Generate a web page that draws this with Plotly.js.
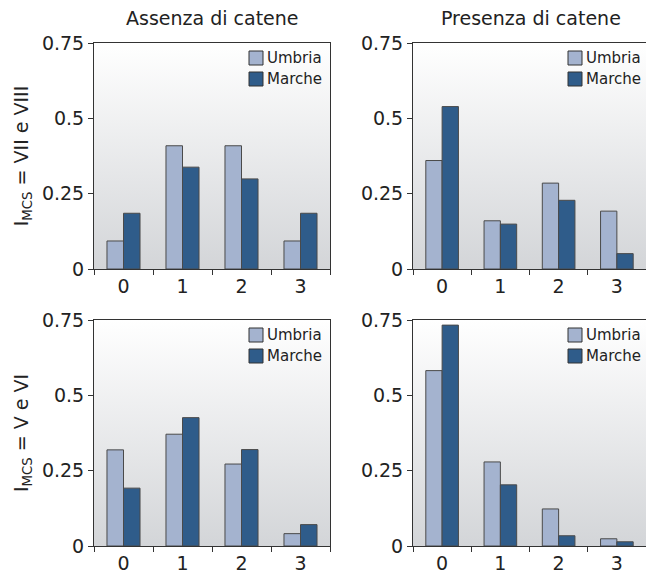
<!DOCTYPE html>
<html>
<head>
<meta charset="utf-8">
<script src="https://cdn.plot.ly/plotly-3.0.1.min.js"></script>
<style>html,body{margin:0;padding:0;background:#fff;}#chart{width:646px;height:572px;}</style>
</head>
<body>
<div id="chart"></div>
<script>
const categories = ['0', '1', '2', '3'];
const seriesNames = ['Umbria', 'Marche'];
const columnTitles = ['Assenza di catene', 'Presenza di catene'];
const rowTitles = ['I<sub>MCS</sub> = VII e VIII', 'I<sub>MCS</sub> = V e VI'];
const yTickVals = [0, 0.25, 0.5, 0.75];
const yTickText = ['0', '0.25', '0.5', '0.75'];

// top-left: VII e VIII, assenza
const umbriaTL = [0.093, 0.409, 0.409, 0.093];
const marcheTL = [0.185, 0.338, 0.299, 0.185];
// top-right: VII e VIII, presenza
const umbriaTR = [0.360, 0.160, 0.285, 0.192];
const marcheTR = [0.539, 0.149, 0.228, 0.051];
// bottom-left: V e VI, assenza
const umbriaBL = [0.319, 0.371, 0.272, 0.041];
const marcheBL = [0.192, 0.426, 0.320, 0.071];
// bottom-right: V e VI, presenza
const umbriaBR = [0.582, 0.279, 0.123, 0.024];
const marcheBR = [0.733, 0.203, 0.034, 0.014];

const FONT = '"DejaVu Sans", sans-serif';
const colUmbria = '#a4b3cf';
const colMarche = '#2f5c8a';
const seriesColors = [colUmbria, colMarche];
const outline = '#4a4a4a';

const W = 646, H = 572;
const LEFTS = [94, 413];           // panel left edges (px)
const TOPS = [43, 320];            // panel top edges (px)
const xDomL = [94 / W, 330 / W];
const xDomR = [413 / W, 1.0];
const yDomT = [1 - 269 / H, 1 - 43 / H];
const yDomB = [1 - 546 / H, 1 - 320 / H];

const panels = [
  {u: umbriaTL, m: marcheTL, xa: 'x', ya: 'y', col: 0, row: 0},
  {u: umbriaTR, m: marcheTR, xa: 'x2', ya: 'y2', col: 1, row: 0},
  {u: umbriaBL, m: marcheBL, xa: 'x3', ya: 'y3', col: 0, row: 1},
  {u: umbriaBR, m: marcheBR, xa: 'x4', ya: 'y4', col: 1, row: 1}
];

const data = [];
panels.forEach(p => {
  data.push({type: 'bar', x: categories, y: p.u, name: seriesNames[0], xaxis: p.xa, yaxis: p.ya,
    marker: {color: colUmbria, line: {color: outline, width: 1}}, hoverinfo: 'y', showlegend: false});
  data.push({type: 'bar', x: categories, y: p.m, name: seriesNames[1], xaxis: p.xa, yaxis: p.ya,
    marker: {color: colMarche, line: {color: outline, width: 1}}, hoverinfo: 'y', showlegend: false});
});

function xaxis(dom, anchor) {
  return {domain: dom, anchor: anchor, type: 'category', range: [-0.5, 3.5],
    tickson: 'boundaries', ticks: 'outside', ticklen: 5, tickcolor: '#333', tickwidth: 1,
    showline: true, linecolor: '#333', linewidth: 1, mirror: true, showgrid: false, zeroline: false,
    tickfont: {family: FONT, size: 19, color: '#222'}, fixedrange: true};
}
function yaxis(dom, anchor, title) {
  const a = {domain: dom, anchor: anchor, range: [0, 0.75], tickvals: yTickVals, ticktext: yTickText,
    ticks: 'outside', ticklen: 5, tickcolor: '#333', tickwidth: 1,
    showline: true, linecolor: '#333', linewidth: 1, mirror: true, showgrid: false, zeroline: false,
    tickfont: {family: FONT, size: 19, color: '#222'}, fixedrange: true};
  if (title) a.title = {text: title, font: {family: FONT, size: 19, color: '#222'}, standoff: 8};
  return a;
}

const grad = 'data:image/svg+xml;utf8,' + encodeURIComponent(
  '<svg xmlns="http://www.w3.org/2000/svg" width="100" height="100" preserveAspectRatio="none">' +
  '<defs><linearGradient id="g" x1="0" y1="0" x2="0" y2="1">' +
  '<stop offset="0" stop-color="#ffffff"/><stop offset="1" stop-color="#d3d5d8"/></linearGradient></defs>' +
  '<rect width="100" height="100" fill="url(#g)"/></svg>');

function bgImage(xr, yr) {
  return {source: grad, xref: xr + ' domain', yref: yr + ' domain', x: 0, y: 1, sizex: 1, sizey: 1,
    xanchor: 'left', yanchor: 'top', sizing: 'stretch', layer: 'below'};
}

// custom legends (swatch + label) inside each panel, top-right
const shapes = [];
const annotations = [
  {text: columnTitles[0], xref: 'paper', yref: 'paper', x: (xDomL[0] + xDomL[1]) / 2, y: 1 - 18 / H,
    xanchor: 'center', yanchor: 'middle', showarrow: false, font: {family: FONT, size: 19, color: '#222'}},
  {text: columnTitles[1], xref: 'paper', yref: 'paper', x: (413 + 649) / 2 / W, y: 1 - 18 / H,
    xanchor: 'center', yanchor: 'middle', showarrow: false, font: {family: FONT, size: 19, color: '#222'}}
];
panels.forEach(p => {
  const left = LEFTS[p.col], top = TOPS[p.row];
  seriesNames.forEach((nm, i) => {
    const sx0 = left + 155, sy0 = top + 8 + i * 21;
    shapes.push({type: 'rect', xref: 'paper', yref: 'paper',
      x0: sx0 / W, x1: (sx0 + 14) / W, y0: 1 - sy0 / H, y1: 1 - (sy0 + 14) / H,
      fillcolor: seriesColors[i], line: {color: '#333', width: 1}});
    annotations.push({text: nm, xref: 'paper', yref: 'paper', x: (sx0 + 16) / W, y: 1 - (sy0 + 7) / H,
      xanchor: 'left', yanchor: 'middle', showarrow: false,
      font: {family: FONT, size: 15, color: '#222'}});
  });
});

const layout = {
  width: W, height: H,
  margin: {l: 0, r: 0, t: 0, b: 0},
  paper_bgcolor: '#ffffff', plot_bgcolor: 'rgba(0,0,0,0)',
  barmode: 'group', bargap: 0.44, bargroupgap: 0,
  font: {family: FONT, color: '#222'},
  showlegend: false,
  xaxis: xaxis(xDomL, 'y'), yaxis: yaxis(yDomT, 'x', rowTitles[0]),
  xaxis2: xaxis(xDomR, 'y2'), yaxis2: yaxis(yDomT, 'x2', null),
  xaxis3: xaxis(xDomL, 'y3'), yaxis3: yaxis(yDomB, 'x3', rowTitles[1]),
  xaxis4: xaxis(xDomR, 'y4'), yaxis4: yaxis(yDomB, 'x4', null),
  images: [bgImage('x', 'y'), bgImage('x2', 'y2'), bgImage('x3', 'y3'), bgImage('x4', 'y4')],
  shapes: shapes,
  annotations: annotations
};

Plotly.newPlot('chart', data, layout, {displayModeBar: false, staticPlot: true});
</script>
</body>
</html>
